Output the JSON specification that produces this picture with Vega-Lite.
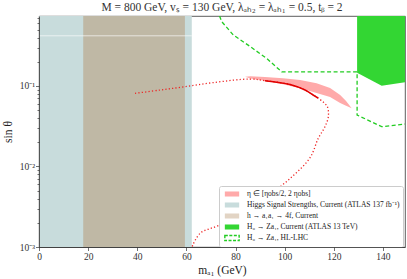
{
  "$schema": "https://vega.github.io/schema/vega-lite/v6.json",
  "width": 366,
  "height": 231,
  "autosize": "none",
  "padding": {"left": 39, "top": 16, "right": 2, "bottom": 32},
  "title": {"text": "M = 800 GeV, vₛ = 130 GeV, λₐₕ₂ = λₐₕ₁ = 0.5, tᵦ = 2", "font": "Liberation Serif", "fontSize": 11.5, "fontWeight": "normal", "color": "#333", "offset": 0, "dy": 1},
  "datasets": {
    "bands": [{"x0": 0, "x1": 62.2, "kind": "blue"}],
    "tan": [{"x0": 18.0, "x1": 59.4}],
    "white": [{"x0": 0, "x1": 62.2, "y": 0.42}],
    "eta": [
      {"x": 83.9, "hi": 0.13, "lo": 0.13},
      {"x": 86, "hi": 0.132, "lo": 0.124},
      {"x": 92, "hi": 0.129, "lo": 0.116},
      {"x": 99.3, "hi": 0.125, "lo": 0.105},
      {"x": 106.3, "hi": 0.119, "lo": 0.094},
      {"x": 113, "hi": 0.108, "lo": 0.082},
      {"x": 118.5, "hi": 0.0944, "lo": 0.073},
      {"x": 122.6, "hi": 0.0773, "lo": 0.0615},
      {"x": 125, "hi": 0.0651, "lo": 0.057},
      {"x": 127.3, "hi": 0.0529, "lo": 0.0529}
    ],
    "curve": [
      {"i": 0, "x": 39.1, "y": 0.081},
      {"i": 1, "x": 49.3, "y": 0.089},
      {"i": 2, "x": 59.4, "y": 0.098},
      {"i": 3, "x": 70.8, "y": 0.11},
      {"i": 4, "x": 85.9, "y": 0.122},
      {"i": 5, "x": 92.0, "y": 0.1164},
      {"i": 6, "x": 102.2, "y": 0.1044},
      {"i": 7, "x": 108.3, "y": 0.0892},
      {"i": 8, "x": 111.6, "y": 0.0773},
      {"i": 9, "x": 113.6, "y": 0.071},
      {"i": 10, "x": 116.0, "y": 0.062},
      {"i": 11, "x": 117.4, "y": 0.0553},
      {"i": 12, "x": 117.8, "y": 0.0416},
      {"i": 13, "x": 116.4, "y": 0.0312},
      {"i": 14, "x": 113.7, "y": 0.0224},
      {"i": 15, "x": 110.3, "y": 0.0128},
      {"i": 16, "x": 102.2, "y": 0.0071},
      {"i": 17, "x": 92.7, "y": 0.0042},
      {"i": 18, "x": 84.6, "y": 0.00288},
      {"i": 19, "x": 73.7, "y": 0.00188},
      {"i": 20, "x": 65.6, "y": 0.00148},
      {"i": 21, "x": 62.3, "y": 0.001}
    ],
    "solid": [
      {"x": 92.0, "y": 0.1164},
      {"x": 102.2, "y": 0.1044},
      {"x": 108.3, "y": 0.0892},
      {"x": 111.6, "y": 0.0773},
      {"x": 113.6, "y": 0.071}
    ],
    "greenfill": [
      {"x": 129.5, "y": 0.146, "top": 0.74},
      {"x": 139.5, "y": 0.1008, "top": 0.74},
      {"x": 149, "y": 0.111, "top": 0.74}
    ],
    "hllhc": [
      {"i": 0, "x": 73.5, "y": 0.74},
      {"i": 1, "x": 74.4, "y": 0.63},
      {"i": 2, "x": 79.1, "y": 0.43},
      {"i": 3, "x": 85.9, "y": 0.31},
      {"i": 4, "x": 92.7, "y": 0.22},
      {"i": 5, "x": 98.8, "y": 0.15},
      {"i": 6, "x": 129.5, "y": 0.15},
      {"i": 7, "x": 129.5, "y": 0.0436},
      {"i": 8, "x": 139.5, "y": 0.0312},
      {"i": 9, "x": 149, "y": 0.0337}
    ]
  },
  "layer": [
    {
      "data": {"name": "bands"},
      "mark": {"type": "rect"},
      "encoding": {
        "x": {
          "field": "x0", "type": "quantitative",
          "scale": {"domain": [0, 149], "nice": false, "zero": false},
          "axis": {
            "title": "mₐ₁ (GeV)",
            "values": [0, 5, 10, 15, 20, 25, 30, 35, 40, 45, 50, 55, 60, 65, 70, 75, 80, 85, 90, 95, 100, 105, 110, 115, 120, 125, 130, 135, 140, 145],
            "labelExpr": "datum.value % 20 === 0 ? datum.label : ''",
            "tickSize": {"condition": {"test": "datum.value % 20 === 0", "value": 3.5}, "value": 2},
            "labelOverlap": false,
            "labelFlush": false,
            "labelPadding": 1,
            "titlePadding": 3,
            "zindex": 1
          }
        },
        "x2": {"field": "x1"},
        "color": {
          "datum": "Higgs Signal Strengths, Current (ATLAS 137 fb⁻¹)",
          "type": "nominal",
          "scale": {
            "domain": ["η ∈ [ηobs/2, 2 ηobs]", "Higgs Signal Strengths, Current (ATLAS 137 fb⁻¹)", "h → a₁a₁ → 4f, Current", "H₀ → Za₁, Current (ATLAS 13 TeV)", "H₀ → Za₁, HL-LHC"],
            "range": ["#ffaaaa", "#c8dcdc", "#e2d4c4", "#33d633", "white"]
          },
          "legend": {
            "title": null,
            "orient": "none",
            "legendX": 180,
            "legendY": 170,
            "symbolType": "M-1.85,-0.65H1.85V0.65H-1.85Z",
            "symbolSize": 60,
            "symbolOpacity": 1,
            "symbolStrokeWidth": 0,
            "symbolOffset": 5,
            "labelOffset": 10,
            "labelFont": "Liberation Serif",
            "labelFontSize": 7.5,
            "labelColor": "#222",
            "labelLimit": 300,
            "rowPadding": -1,
            "padding": 3,
            "fillColor": "white",
            "strokeColor": "#cccccc",
            "cornerRadius": 2,
            "encode": {
              "symbols": {
                "update": {
                  "stroke": {"signal": "datum.index === 4 ? '#22cc22' : 'transparent'"},
                  "strokeWidth": {"value": 1.4},
                  "strokeDash": {"value": [3, 1.5]}
                }
              }
            }
          }
        }
      }
    },
    {
      "data": {"name": "tan"},
      "mark": {"type": "rect", "fill": "#bfb8a5"},
      "encoding": {
        "x": {"field": "x0", "type": "quantitative"},
        "x2": {"field": "x1"}
      }
    },
    {
      "data": {"name": "white"},
      "mark": {"type": "rule", "stroke": "white", "strokeWidth": 0.8, "opacity": 0.8},
      "encoding": {
        "x": {"field": "x0", "type": "quantitative"},
        "x2": {"field": "x1"},
        "y": {
          "field": "y", "type": "quantitative",
          "scale": {"type": "log", "domain": [0.001, 0.74], "nice": false},
          "axis": {
            "title": "sin θ",
            "values": [0.001, 0.002, 0.003, 0.004, 0.005, 0.006, 0.007, 0.008, 0.009, 0.01, 0.02, 0.03, 0.04, 0.05, 0.06, 0.07, 0.08, 0.09, 0.1, 0.2, 0.3, 0.4, 0.5, 0.6, 0.7],
            "labelExpr": "datum.value === 0.1 ? '10⁻¹' : datum.value === 0.01 ? '10⁻²' : datum.value === 0.001 ? '10⁻³' : ''",
            "tickSize": {"condition": {"test": "datum.value === 0.1 || datum.value === 0.01 || datum.value === 0.001", "value": 3.5}, "value": 2},
            "labelOverlap": false,
            "labelFlush": false,
            "labelPadding": 1,
            "titlePadding": 6,
            "zindex": 1
          }
        }
      }
    },
    {
      "data": {"name": "eta"},
      "mark": {"type": "area", "fill": "#ffaaaa", "opacity": 1},
      "encoding": {
        "x": {"field": "x", "type": "quantitative"},
        "y": {"field": "hi", "type": "quantitative"},
        "y2": {"field": "lo"}
      }
    },
    {
      "data": {"name": "curve"},
      "mark": {"type": "line", "stroke": "#ee2222", "strokeWidth": 1.3, "strokeDash": [1.2, 2.2], "interpolate": "catmull-rom", "clip": true},
      "encoding": {
        "order": {"field": "i"},
        "x": {"field": "x", "type": "quantitative"},
        "y": {"field": "y", "type": "quantitative"}
      }
    },
    {
      "data": {"name": "solid"},
      "mark": {"type": "line", "stroke": "#e00000", "strokeWidth": 1.6, "interpolate": "catmull-rom"},
      "encoding": {
        "x": {"field": "x", "type": "quantitative"},
        "y": {"field": "y", "type": "quantitative"}
      }
    },
    {
      "data": {"name": "greenfill"},
      "mark": {"type": "area", "fill": "#33d633", "clip": true},
      "encoding": {
        "x": {"field": "x", "type": "quantitative"},
        "y": {"field": "y", "type": "quantitative"},
        "y2": {"field": "top"}
      }
    },
    {
      "data": {"name": "hllhc"},
      "mark": {"type": "line", "stroke": "#22cc22", "strokeWidth": 1.3, "strokeDash": [4, 2.5], "clip": true},
      "encoding": {
        "order": {"field": "i"},
        "x": {"field": "x", "type": "quantitative"},
        "y": {"field": "y", "type": "quantitative"}
      }
    }
  ],
  "config": {
    "view": {"stroke": "#333", "strokeWidth": 0.8},
    "axis": {
      "labelFont": "Liberation Serif",
      "titleFont": "Liberation Serif",
      "labelColor": "#333",
      "titleColor": "#222",
      "domainColor": "#333",
      "tickColor": "#333",
      "grid": false,
      "labelFontSize": 9.5,
      "titleFontSize": 11.5,
      "titleFontWeight": "normal",
      "tickWidth": 0.7,
      "domainWidth": 0.8
    }
  }
}
